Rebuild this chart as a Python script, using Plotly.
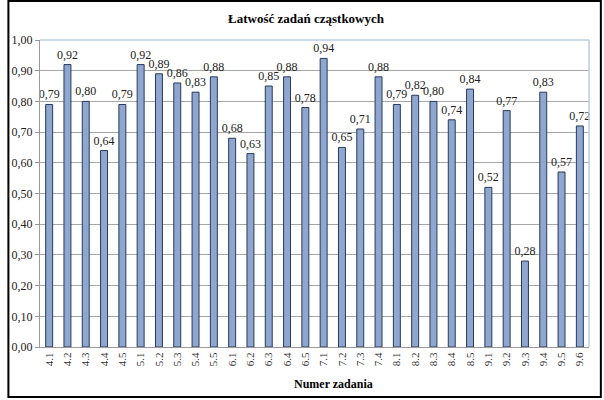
import plotly.graph_objects as go

categories = ["4.1", "4.2", "4.3", "4.4", "4.5", "5.1", "5.2", "5.3", "5.4", "5.5",
              "6.1", "6.2", "6.3", "6.4", "6.5", "7.1", "7.2", "7.3", "7.4", "8.1",
              "8.2", "8.3", "8.4", "8.5", "9.1", "9.2", "9.3", "9.4", "9.5", "9.6"]
values = [0.79, 0.92, 0.80, 0.64, 0.79, 0.92, 0.89, 0.86, 0.83, 0.88,
          0.68, 0.63, 0.85, 0.88, 0.78, 0.94, 0.65, 0.71, 0.88, 0.79,
          0.82, 0.80, 0.74, 0.84, 0.52, 0.77, 0.28, 0.83, 0.57, 0.72]
y_ticks = [0.0, 0.1, 0.2, 0.3, 0.4, 0.5, 0.6, 0.7, 0.8, 0.9, 1.0]

serif = "Liberation Serif"

fig = go.Figure()
fig.add_trace(go.Bar(
    x=categories, y=values,
    marker=dict(color="#8FA6CE", line=dict(color="#283A5C", width=1)),
    texttemplate="%{y:.2f}", textposition="outside",
    textfont=dict(family=serif, size=12, color="#222222"),
    constraintext="none",
    cliponaxis=False,
))

L, R, T, B = 33, 15, 40, 53
W, H = 604, 400
pw, ph = W - L - R, H - T - B

fig.update_layout(
    width=W, height=H,
    margin=dict(l=L, r=R, t=T, b=B),
    paper_bgcolor="white", plot_bgcolor="white",
    separators=",.",
    bargap=0.62,
    showlegend=False,
    font=dict(family=serif, size=12, color="#222222"),
    xaxis=dict(
        type="category", tickangle=-90,
        tickfont=dict(family=serif, size=11, color="#333333"),
        showline=True, linecolor="#9A9A9A", linewidth=1,
        showgrid=False, ticks="",
    ),
    yaxis=dict(
        range=[0, 1], tickvals=y_ticks, tickformat=".2f",
        tickfont=dict(family=serif, size=12, color="#222222"),
        showline=True, linecolor="#9A9A9A", linewidth=1,
        showgrid=True, gridcolor="#A6A6A6", gridwidth=1,
        ticks="outside", ticklen=4, tickcolor="#9A9A9A",
        zeroline=False,
    ),
    annotations=[
        dict(text="<b>Łatwość zadań cząstkowych</b>", xref="paper", yref="paper",
             x=(303 - L) / pw, y=(H - B - 19) / ph, xanchor="center", yanchor="middle",
             showarrow=False, font=dict(family=serif, size=13, color="black")),
        dict(text="<b>Numer zadania</b>", xref="paper", yref="paper",
             x=(330 - L) / pw, y=(H - B - 384) / ph, xanchor="center", yanchor="middle",
             showarrow=False, font=dict(family=serif, size=12, color="black")),
    ],
    shapes=[
        dict(type="line", xref="paper", yref="paper", x0=0, x1=1, y0=1, y1=1,
             line=dict(color="#B8CCE4", width=1.5)),
        dict(type="line", xref="paper", yref="paper", x0=1, x1=1, y0=0, y1=1,
             line=dict(color="#B8CCE4", width=1.5)),
        dict(type="rect", xref="paper", yref="paper",
             x0=(1 - L) / pw, x1=(601 - L) / pw,
             y0=(H - B - 397) / ph, y1=(H - B - 1) / ph,
             line=dict(color="black", width=2), fillcolor="rgba(0,0,0,0)", layer="above"),
    ],
)

fig.write_html("out.html")
